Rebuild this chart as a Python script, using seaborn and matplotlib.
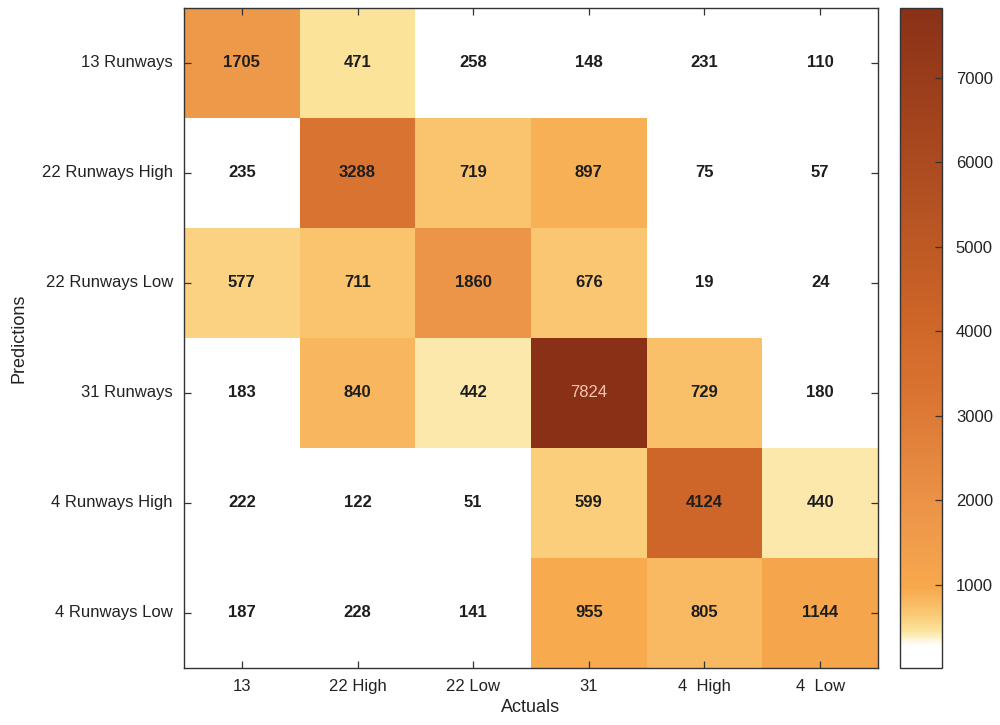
import numpy as np
import pandas as pd
import seaborn as sns
import matplotlib
matplotlib.use("Agg")
import matplotlib.pyplot as plt
from matplotlib.colors import LinearSegmentedColormap

# Confusion matrix: rows are predicted classes, columns are actual classes
predictions = ["13 Runways", "22 Runways High", "22 Runways Low",
               "31 Runways", "4 Runways High", "4 Runways Low"]
actuals = ["13", "22 High", "22 Low", "31", "4  High", "4  Low"]

row_13 = [1705, 471, 258, 148, 231, 110]
row_22_high = [235, 3288, 719, 897, 75, 57]
row_22_low = [577, 711, 1860, 676, 19, 24]
row_31 = [183, 840, 442, 7824, 729, 180]
row_4_high = [222, 122, 51, 599, 4124, 440]
row_4_low = [187, 228, 141, 955, 805, 1144]

counts = pd.DataFrame(
    [row_13, row_22_high, row_22_low, row_31, row_4_high, row_4_low],
    index=predictions, columns=actuals,
)

sns.set_theme(style="white")
plt.rcParams["font.family"] = ["Liberation Sans", "DejaVu Sans"]

vmin, vmax = counts.values.min(), counts.values.max()

# White -> pale yellow -> orange -> dark brown, with a fast rise at low counts
nodes = [
    (19, (1.00, 1.00, 1.00)),
    (270, (1.00, 1.00, 1.00)),
    (450, (0.99, 0.89, 0.60)),
    (650, (0.98, 0.78, 0.45)),
    (950, (0.97, 0.66, 0.30)),
    (1800, (0.93, 0.59, 0.29)),
    (3300, (0.85, 0.45, 0.19)),
    (4100, (0.81, 0.40, 0.16)),
    (7824, (0.54, 0.19, 0.09)),
]
cmap = LinearSegmentedColormap.from_list(
    "runway_heat",
    [((v - vmin) / (vmax - vmin), c) for v, c in nodes],
)

fig = plt.figure(figsize=(10, 7.25), dpi=100)
ax = fig.add_axes([0.184, 0.079, 0.694, 0.910])
cax = fig.add_axes([0.900, 0.079, 0.042, 0.910])

sns.heatmap(
    counts, ax=ax, cbar_ax=cax, cmap=cmap, vmin=vmin, vmax=vmax,
    annot=True, fmt="d",
    annot_kws={"fontsize": 12, "color": "#1e1e1e", "fontweight": "bold"},
    cbar_kws={"ticks": [1000, 2000, 3000, 4000, 5000, 6000, 7000]},
)

# Light text on the darkest cell
for t in ax.texts:
    if t.get_text() == str(vmax):
        t.set_color("#f2c6b4")
        t.set_fontweight("normal")

ax.set_axisbelow(False)
for side in ["left", "right", "top", "bottom"]:
    ax.spines[side].set_visible(True)
    ax.spines[side].set_color("#333333")
    ax.spines[side].set_linewidth(1.0)

ax.tick_params(axis="both", direction="in", length=5, width=0.9,
               color="#333333", labelsize=12, labelcolor="#222222",
               top=True, right=True, left=True, bottom=True,
               labeltop=False, labelright=False, pad=8)
ax.set_yticklabels(predictions, rotation=0)
ax.set_xticklabels(actuals, rotation=0)
ax.set_xlabel("Actuals", fontsize=13, color="#222222", labelpad=4)
ax.set_ylabel("Predictions", fontsize=13, color="#222222", labelpad=10)

cax.set_axisbelow(False)
cax.tick_params(direction="in", length=5, width=0.9, color="#333333",
                labelsize=12, labelcolor="#222222", pad=10, right=True)
cbar = ax.collections[0].colorbar
cbar.outline.set_edgecolor("#333333")
cbar.outline.set_linewidth(1.0)
cbar.outline.set_visible(True)

fig.savefig("out.png", dpi=100)
